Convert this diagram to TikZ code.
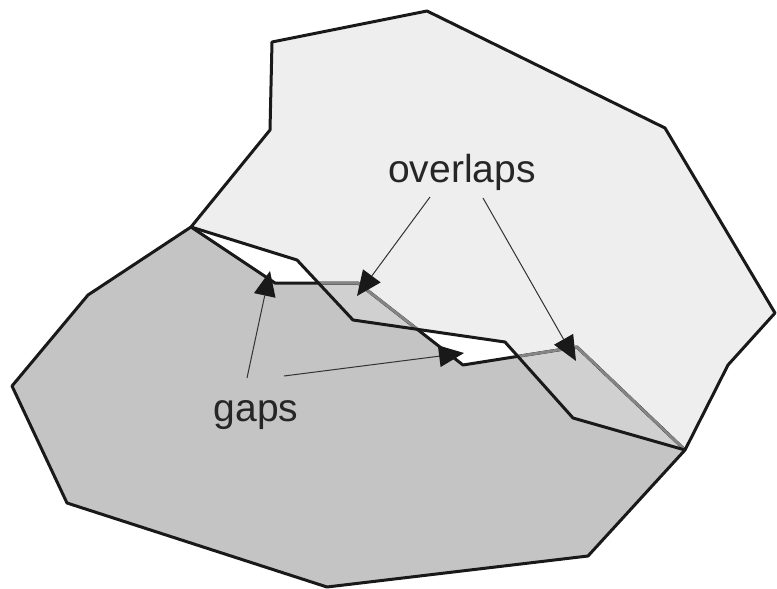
\documentclass[tikz,border=0pt]{standalone}
\usepackage{fontspec}
\setmainfont{Liberation Sans}
\usetikzlibrary{arrows.meta}

\definecolor{lowfill}{HTML}{C4C4C4}
\definecolor{highfill}{HTML}{EEEEEE}
\definecolor{bothfill}{HTML}{D0D0D0}
\definecolor{hiddenedge}{HTML}{858585}
\definecolor{leader}{HTML}{333333}

\tikzset{
  outline/.style={line width=3pt, line join=round, black!90},
  covered/.style={line width=2.8pt, line join=round, hiddenedge},
  callout/.style={line width=1pt, leader,
    -{Triangle[length=25pt,width=22pt,line width=0pt,color=black!90]}},
  tag/.style={anchor=base, font=\fontsize{39}{39}\selectfont, text=black!85, inner sep=0pt}
}

% Lower region (dark) and upper region (light), in pixel units
\def\lowpath{(191,227) -- (88,295) -- (12,386) -- (67,503) -- (327,587) -- (588,556)
  -- (685,450) -- (577,347) -- (463,365) -- (358,283) -- (275,283) -- cycle}
\def\highpath{(191,227) -- (270,130) -- (272,42) -- (427,11) -- (665,128) -- (775,313)
  -- (728,365) -- (685,450) -- (573,418) -- (505,342) -- (353,320) -- (297,260) -- cycle}

\begin{document}
\begin{tikzpicture}[x=1pt, y=-1pt]
  \useasboundingbox (0,0) rectangle (777,589);

  % fills
  \fill[lowfill] \lowpath;
  \fill[highfill] \highpath;
  \begin{scope}
    \clip \lowpath;
    \fill[bothfill] \highpath;
  \end{scope}

  % edges of the lower region, greyed where they lie under the upper one
  \draw[outline] \lowpath;
  \begin{scope}
    \clip \highpath;
    \draw[covered] \lowpath;
  \end{scope}
  \draw[outline] \highpath;

  % labels
  \node[tag] (ov) at (462,182) {overlaps};
  \node[tag] (gp) at (256,421) {gaps};

  % leader start and target points
  \coordinate (ovL) at (430,197);
  \coordinate (ovR) at (483,198);
  \coordinate (gpU) at (247,378);
  \coordinate (gpR) at (284,376);
  \coordinate (ovA) at (357,296);
  \coordinate (ovB) at (576,361);
  \coordinate (gpA) at (270,271);
  \coordinate (gpB) at (464,353);

  \draw[callout] (ovL) -- (ovA);
  \draw[callout] (ovR) -- (ovB);
  \draw[callout] (gpU) -- (gpA);
  \draw[callout] (gpR) -- (gpB);
\end{tikzpicture}
\end{document}
